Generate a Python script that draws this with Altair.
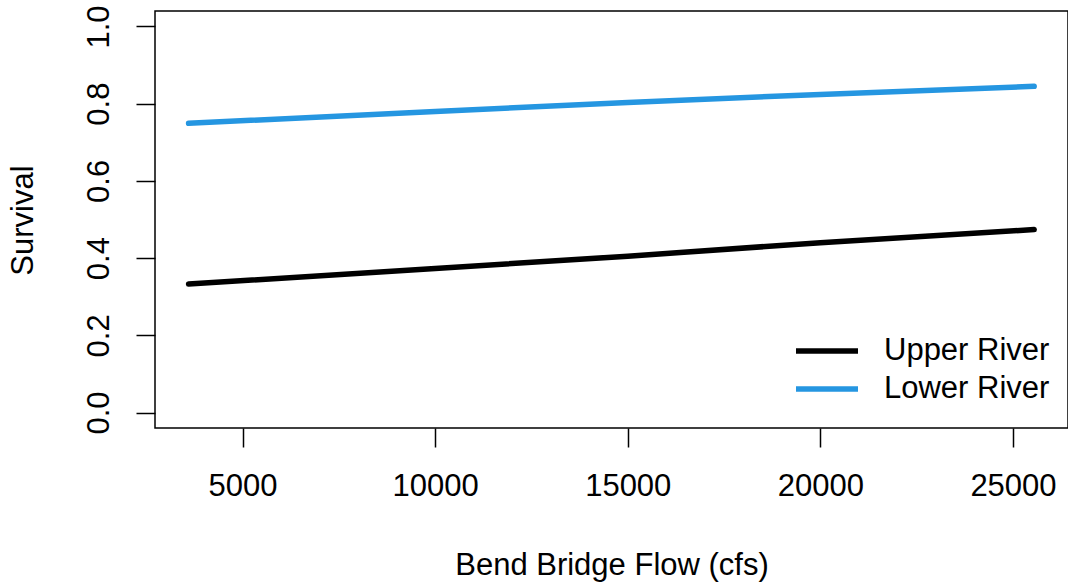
import altair as alt
import pandas as pd

flow = [3600, 10000, 15000, 20000, 25550]
upper = [0.333, 0.373, 0.405, 0.440, 0.474]
lower = [0.749, 0.780, 0.803, 0.824, 0.845]
series = ["Upper River", "Lower River"]
colors = ["#000000", "#2596E1"]
x_ticks = [5000, 10000, 15000, 20000, 25000]
y_ticks = [0.0, 0.2, 0.4, 0.6, 0.8, 1.0]

rows = []
for f, u in zip(flow, upper):
    rows.append({"flow": f, "surv": u, "river": series[0]})
for f, l in zip(flow, lower):
    rows.append({"flow": f, "surv": l, "river": series[1]})
df = pd.DataFrame(rows)

FONT = "Liberation Sans"

chart = alt.Chart(df).mark_line(strokeWidth=5.5, strokeCap="round", clip=True).encode(
    x=alt.X("flow:Q",
            scale=alt.Scale(domain=[2728, 26428], nice=False, zero=False),
            axis=alt.Axis(values=x_ticks, format="d", title="Bend Bridge Flow (cfs)",
                          domain=False, grid=False, tickSize=19, tickWidth=1.5, tickColor="black",
                          labelFontSize=31, labelFont=FONT, labelColor="black",
                          labelBaseline="alphabetic", labelPadding=48,
                          titleFontSize=31, titleFont=FONT, titleFontWeight="normal",
                          titleColor="black", titleBaseline="alphabetic", titleY=146)),
    y=alt.Y("surv:Q",
            scale=alt.Scale(domain=[-0.04, 1.04], nice=False, zero=False),
            axis=alt.Axis(values=y_ticks, format=".1f", title="Survival",
                          domain=False, grid=False, tickSize=19, tickWidth=1.5, tickColor="black",
                          labelFontSize=31, labelFont=FONT, labelColor="black",
                          labelAngle=270, labelAlign="center", labelBaseline="alphabetic",
                          labelPadding=28,
                          titleFontSize=31, titleFont=FONT, titleFontWeight="normal",
                          titleColor="black", titleAngle=270, titleAlign="center",
                          titleBaseline="alphabetic", titleX=-123, titleY=209)),
    color=alt.Color("river:N",
                    scale=alt.Scale(domain=series, range=colors),
                    sort=series,
                    legend=alt.Legend(title=None, orient="none", legendX=638, legendY=321,
                                      symbolType="stroke", symbolSize=3844,
                                      symbolStrokeWidth=5.5, labelFontSize=31,
                                      labelFont=FONT, labelColor="black", labelOffset=23,
                                      labelLimit=400, padding=0, rowPadding=0,
                                      clipHeight=38)),
).properties(
    width=913, height=417,
    autosize=alt.AutoSizeParams(type="none"),
    padding={"left": 155, "top": 11, "right": 0, "bottom": 155},
).configure(
    background="white",
    view=alt.ViewConfig(stroke="black", strokeWidth=1.5, fill="white"),
)

chart.save("out.html", embed_options={"renderer": "svg", "actions": False})
